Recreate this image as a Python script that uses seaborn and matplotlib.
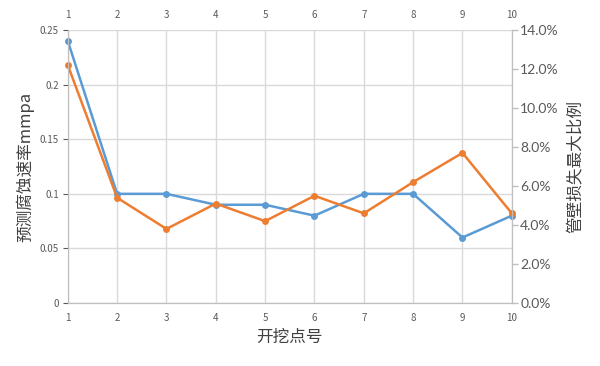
import numpy as np
import pandas as pd
import matplotlib
matplotlib.use('Agg')
import matplotlib.pyplot as plt
import seaborn as sb
from matplotlib.ticker import PercentFormatter

sb.set_style('white')
plt.rcParams['font.family'] = ['Noto Sans CJK SC', 'DejaVu Sans']

points = [1, 2, 3, 4, 5, 6, 7, 8, 9, 10]
corrosion_rate = [0.24, 0.10, 0.10, 0.09, 0.09, 0.08, 0.10, 0.10, 0.06, 0.08]
wall_loss = [0.122, 0.054, 0.038, 0.051, 0.042, 0.055, 0.046, 0.062, 0.077, 0.046]

df = pd.DataFrame({'point': points, 'rate': corrosion_rate, 'loss': wall_loss})

blue = '#5B9BD5'
orange = '#ED7D31'
grid_c = '#D9D9D9'
text_c = '#595959'

fig, ax = plt.subplots(figsize=(6, 3.66), dpi=100)
fig.subplots_adjust(left=0.113, right=0.853, top=0.918, bottom=0.172)

sb.lineplot(data=df, x='point', y='rate', ax=ax, color=blue, marker='o',
            markersize=5, markeredgewidth=0, linewidth=1.8, clip_on=False)
ax.set_xlim(1, 10)
ax.set_ylim(0, 0.25)
ax.set_xticks(points)
ax.set_yticks([0, 0.05, 0.1, 0.15, 0.2, 0.25])
ax.set_yticklabels(['0', '0.05', '0.1', '0.15', '0.2', '0.25'])
ax.grid(True, color=grid_c, linewidth=1)
ax.tick_params(axis='x', labeltop=True, top=False, bottom=False,
               labelsize=7, colors=text_c, pad=4)
ax.tick_params(axis='y', left=False, labelsize=7, colors=text_c, pad=3)
ax.set_xlabel('开挖点号', fontsize=12, color='#404040', labelpad=4)
ax.set_ylabel('预测腐蚀速率mmpa', fontsize=12, color='#404040', labelpad=4)

ax2 = ax.twinx()
sb.lineplot(data=df, x='point', y='loss', ax=ax2, color=orange, marker='o',
            markersize=5, markeredgewidth=0, linewidth=1.8, clip_on=False)
ax2.set_ylim(0, 0.14)
ax2.set_yticks(np.arange(0, 0.141, 0.02))
ax2.yaxis.set_major_formatter(PercentFormatter(1.0, decimals=1))
ax2.tick_params(axis='y', right=True, length=4, width=1,
                labelsize=10, pad=2)
for lab in ax2.get_yticklabels():
    lab.set_family(['Lato', 'DejaVu Sans'])
ax2.set_ylabel('管壁损失最大比例', fontsize=12, color='#404040', labelpad=6)

for a in (ax, ax2):
    a.spines['top'].set_visible(False)
    for side in ('left', 'bottom', 'right'):
        a.spines[side].set_visible(True)
        a.spines[side].set_color('#BFBFBF')
ax2.tick_params(axis='y', color='#BFBFBF', labelcolor=text_c)

plt.savefig('out.png', dpi=100)
